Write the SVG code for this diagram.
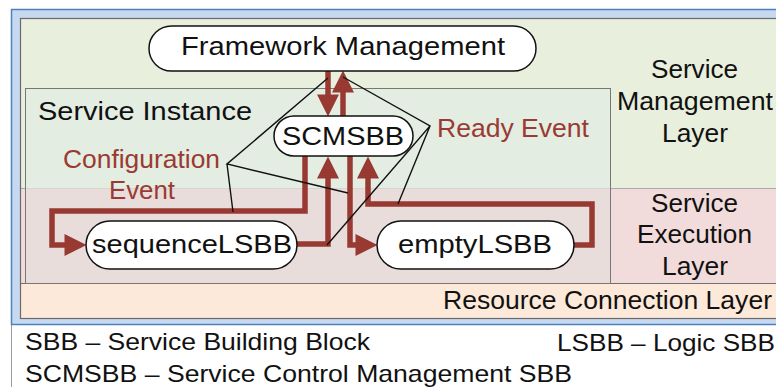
<svg xmlns="http://www.w3.org/2000/svg" width="776" height="387" viewBox="0 0 776 387">
<style>
text{font-family:"Liberation Sans",Arial,sans-serif;fill:#111;}
.lbl{font-size:25px;}
.red{fill:#9a3b33;}
.leg{font-size:24px;}
.pill{fill:#fff;stroke:#111;stroke-width:1.5;}
.flow{fill:none;stroke:#983a32;stroke-width:5.5;stroke-linejoin:miter;}
.call{fill:none;stroke:#111;stroke-width:1.4;}
</style>
<defs>
<marker id="ah" markerUnits="userSpaceOnUse" markerWidth="22" markerHeight="22" viewBox="0 0 21 21" refX="11" refY="10.5" orient="auto">
<path d="M0,0 L21,10.5 L0,21 Z" fill="#983a32"/>
</marker>
</defs>
<rect x="0" y="0" width="776" height="387" fill="#fff"/>
<line x1="11.5" y1="325" x2="11.5" y2="387" stroke="#9a9a9a" stroke-width="1"/>
<g id="frame">
<rect x="11.5" y="9.5" width="790" height="315" fill="#c6d9f1" stroke="#4f81bd" stroke-width="1.5"/>
</g>
<g id="layers">
<rect id="mgmt-layer" x="20.5" y="18.5" width="780" height="170" fill="#e9efdd"/>
<rect id="exec-layer" x="20.5" y="188.5" width="780" height="95" fill="#f2dcdb"/>
<rect id="res-layer" x="20.5" y="283.5" width="780" height="35" fill="#fde9d9"/>
<line x1="20.5" y1="188.5" x2="776" y2="188.5" stroke="#a9a9a9" stroke-width="1"/>
<line x1="20.5" y1="283.5" x2="776" y2="283.5" stroke="#6f6f6f" stroke-width="1"/>
<rect x="20.5" y="18.5" width="780" height="300" fill="none" stroke="#6a6a6a" stroke-width="1.2"/>
<text class="lbl" x="651" y="78" textLength="87" lengthAdjust="spacingAndGlyphs">Service</text>
<text class="lbl" x="617" y="110" textLength="156" lengthAdjust="spacingAndGlyphs">Management</text>
<text class="lbl" x="662" y="142" textLength="66" lengthAdjust="spacingAndGlyphs">Layer</text>
<text class="lbl" x="651" y="212" textLength="87" lengthAdjust="spacingAndGlyphs">Service</text>
<text class="lbl" x="637" y="243" textLength="115" lengthAdjust="spacingAndGlyphs">Execution</text>
<text class="lbl" x="662" y="275" textLength="66" lengthAdjust="spacingAndGlyphs">Layer</text>
<text class="lbl" x="443" y="309" textLength="329" lengthAdjust="spacingAndGlyphs">Resource Connection Layer</text>
</g>
<g id="service-instance">
<rect x="25.5" y="88.5" width="585" height="100" fill="#e4ede1"/>
<rect x="25.5" y="188.5" width="585" height="95" fill="#e9dddc"/>
<rect x="25.5" y="88.5" width="585" height="195" fill="none" stroke="#777" stroke-width="1"/>
<text class="lbl" x="38" y="120" font-size="26" textLength="214" lengthAdjust="spacingAndGlyphs">Service Instance</text>
</g>
<g id="connectors">
<path class="flow" d="M328,71 L328,106" marker-end="url(#ah)"/>
<path class="flow" d="M343,116 L343,81" marker-end="url(#ah)"/>
<path class="flow" d="M297,244 L328,244 L328,167" marker-end="url(#ah)"/>
<path class="flow" d="M305,156 L305,211 L52,211 L52,245 L76,245" marker-end="url(#ah)"/>
<path class="flow" d="M350,156 L350,245 L367,245" marker-end="url(#ah)"/>
<path class="flow" d="M574,245 L592,245 L592,204 L368,204 L368,167" marker-end="url(#ah)"/>
<path class="call" d="M328,78 L227,164 L348,193 M227,164 L233,212"/>
<path class="call" d="M343,77 L430,126 L327,245 M430,126 L398,204"/>
</g>
<g id="config-label">
<text class="lbl red" x="63" y="168" textLength="157" lengthAdjust="spacingAndGlyphs">Configuration</text>
<text class="lbl red" x="109" y="199" textLength="66" lengthAdjust="spacingAndGlyphs">Event</text>
</g>
<g id="ready-label">
<text class="lbl red" x="437" y="137" textLength="152" lengthAdjust="spacingAndGlyphs">Ready Event</text>
</g>
<g id="framework-management">
<rect class="pill" x="149" y="26" width="387" height="45" rx="22.5"/>
<text class="lbl" x="181" y="55" textLength="324" lengthAdjust="spacingAndGlyphs">Framework Management</text>
</g>
<g id="scmsbb">
<rect class="pill" x="274" y="116" width="139" height="40" rx="20"/>
<text class="lbl" x="282" y="145" textLength="122" lengthAdjust="spacingAndGlyphs">SCMSBB</text>
</g>
<g id="sequence-lsbb">
<rect class="pill" x="86" y="221" width="211" height="48" rx="24"/>
<text class="lbl" x="92" y="253" textLength="200" lengthAdjust="spacingAndGlyphs">sequenceLSBB</text>
</g>
<g id="empty-lsbb">
<rect class="pill" x="377" y="221" width="197" height="48" rx="24"/>
<text class="lbl" x="398" y="253" textLength="154" lengthAdjust="spacingAndGlyphs">emptyLSBB</text>
</g>
<g id="legend">
<text class="leg" x="25" y="350" textLength="345" lengthAdjust="spacingAndGlyphs">SBB – Service Building Block</text>
<text class="leg" x="557" y="351" textLength="218" lengthAdjust="spacingAndGlyphs">LSBB – Logic SBB</text>
<text class="leg" x="25" y="382" textLength="547" lengthAdjust="spacingAndGlyphs">SCMSBB – Service Control Management SBB</text>
</g>
</svg>
